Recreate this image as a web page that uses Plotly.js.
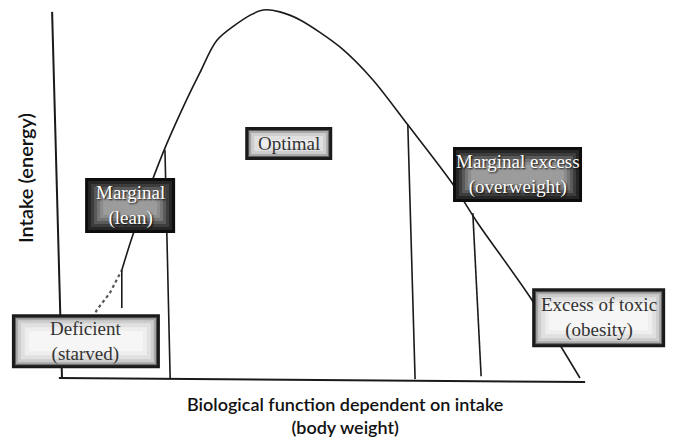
<!DOCTYPE html>
<html>
<head>
<meta charset="utf-8">
<script src="https://cdn.plot.ly/plotly-3.0.1.min.js"></script>
<style>
  html, body { margin: 0; padding: 0; background: #fff; }
  #chart { width: 688px; height: 442px; }
</style>
</head>
<body>
<div id="chart"></div>
<script>
// intake curve (arbitrary units: body weight 0-100, intake 0-100)
var dashX = [3.5, 6.7, 9.2, 11.5];
var dashY = [9.0, 18.5, 23.1, 29.3];
var curveX = [11.5, 13.5, 19.4, 23.3, 26.5, 29.8, 36.2, 38.7, 41.9, 45.8, 53.5, 59.8, 66.5, 75.0, 79.8, 90.0, 99.6];
var curveY = [29.3, 38.3, 61.1, 73.6, 82.9, 91.8, 98.6, 100, 99.5, 97.3, 89.9, 81.0, 68.8, 53.0, 42.4, 22.0, 0];

// zone boundaries (top / bottom of each divider)
var divX0 = [11.5, 19.8, 66.5, 79.0];
var divX1 = [11.5, 20.8, 67.9, 80.6];
var divTop = [29.3, 62.0, 68.8, 44.8];
var divBot = [19.0, 0, -0.3, 0.5];

// axis lines
var yAxisX = [-1.9, 0];
var yAxisY = [99.5, 0];
var xAxisX = [-0.6, 100.6];
var xAxisY = [0, -1.1];

// zone labels
var zoneText = ['Deficient<br>(starved)', 'Marginal<br>(lean)', 'Optimal',
                'Marginal excess<br>(overweight)', 'Excess of toxic<br>(obesity)'];
var zoneX = [4.6, 13.1, 43.6, 87.6, 103.2];
var zoneY = [10.0, 46.9, 63.7, 55.3, 16.4];
var zoneDark = [false, true, false, true, false];
var zoneW = [148, 90, 87, 129, 133];
var zoneH = [54, 55, 33, 55, 59];

// box shading (inset px, colour)
var darkStops = [[0, '#0d0d0d'], [3, '#262626'], [6, '#3d3d3d'], [9, '#5a5a5a'], [12, '#767676'], [15, '#8c8c8c'], [18, '#9c9c9c']];
var lightStops = [[0, '#1a1a1a'], [3, '#5a5a5a'], [4, '#a8a8a8'], [6, '#cdcdcd'], [9, '#e0e0e0'], [13, '#eeeeee'], [17, '#f6f6f6']];

var black = '#1a1a1a';
var data = [
  {x: dashX, y: dashY, mode: 'lines', line: {color: '#555', width: 2.2, dash: 'dot'}},
  {x: curveX, y: curveY, mode: 'lines', line: {color: black, width: 1.6, shape: 'spline', smoothing: 0.8}},
  {x: yAxisX, y: yAxisY, mode: 'lines', line: {color: black, width: 2}},
  {x: xAxisX, y: xAxisY, mode: 'lines', line: {color: black, width: 2}}
];
for (var i = 0; i < divX0.length; i++) {
  data.push({x: [divX0[i], divX1[i]], y: [divTop[i], divBot[i]], mode: 'lines',
             line: {color: black, width: 1.6}});
}

var shapes = [];
zoneText.forEach(function (t, i) {
  var stops = zoneDark[i] ? darkStops : lightStops;
  var w = zoneW[i], h = zoneH[i];
  stops.forEach(function (s) {
    var k = s[0];
    if (2 * k >= h - 2) return;
    shapes.push({
      type: 'rect', layer: 'above', xref: 'x', yref: 'y',
      xsizemode: 'pixel', ysizemode: 'pixel', xanchor: zoneX[i], yanchor: zoneY[i],
      x0: -w / 2 + k, x1: w / 2 - k, y0: -h / 2 + k, y1: h / 2 - k,
      fillcolor: s[1], line: {width: 0}
    });
  });
});

var annotations = zoneText.map(function (t, i) {
  var dark = zoneDark[i];
  return {
    x: zoneX[i], y: zoneY[i], xref: 'x', yref: 'y', text: t, showarrow: false,
    xanchor: 'center', yanchor: 'middle',
    font: {family: 'Liberation Serif, serif', size: 19,
           color: dark ? '#ffffff' : '#333333',
           shadow: dark ? '1px 1px 2px #000' : 'none'}
  };
});
annotations.push({
  xref: 'paper', yref: 'paper', x: 0.5015, y: 0.061, showarrow: false,
  xanchor: 'center', yanchor: 'middle',
  text: 'Biological function dependent on intake<br>(body weight)',
  font: {family: 'Lato, sans-serif', size: 18, color: '#111', weight: 600}
});
annotations.push({
  xref: 'paper', yref: 'paper', x: 0.0363, y: 0.597, showarrow: false, textangle: -90,
  xanchor: 'center', yanchor: 'middle',
  text: 'Intake (energy)',
  font: {family: 'Lato, sans-serif', size: 20, color: '#111', weight: 600}
});

var layout = {
  width: 688, height: 442,
  margin: {l: 0, r: 0, t: 0, b: 0},
  showlegend: false,
  paper_bgcolor: '#fff', plot_bgcolor: '#fff',
  xaxis: {range: [-11.92, 120.38], visible: false, fixedrange: true},
  yaxis: {range: [-17.39, 102.72], visible: false, fixedrange: true},
  shapes: shapes,
  annotations: annotations
};

Plotly.newPlot('chart', data, layout, {displayModeBar: false, staticPlot: true});
</script>
</body>
</html>
